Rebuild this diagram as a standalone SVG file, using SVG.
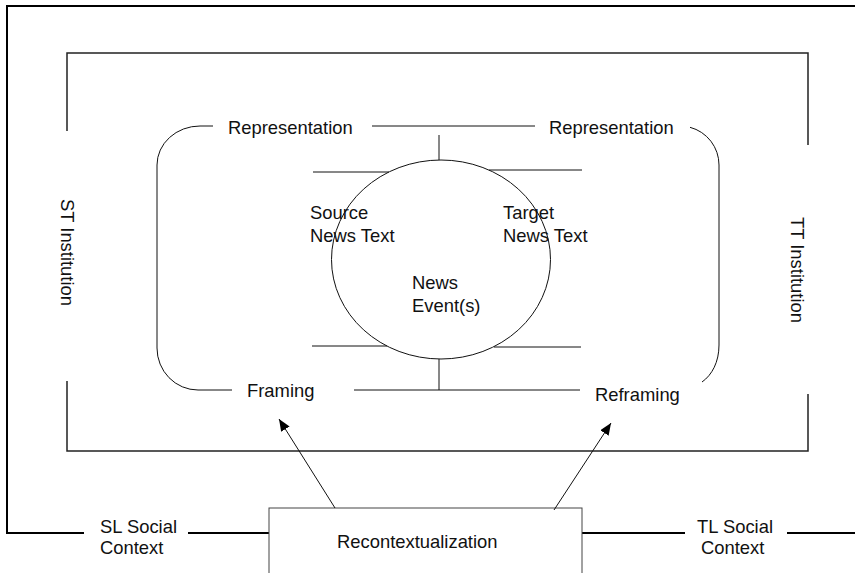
<svg xmlns="http://www.w3.org/2000/svg" width="855" height="573" viewBox="0 0 855 573">
<defs>
<style>
text{font-family:"Liberation Sans",Arial,sans-serif;font-size:18.4px;fill:#111}
.outer{stroke:#000;stroke-width:2;fill:none}
.inner{stroke:#222;stroke-width:1.5;fill:none}
.thin{stroke:#111;stroke-width:1;fill:none}
</style>
<marker id="ah" viewBox="0 0 12 10" refX="12" refY="5" markerWidth="12" markerHeight="10" markerUnits="userSpaceOnUse" orient="auto">
<path d="M0,0 L12,5 L0,10 Z" fill="#000"/>
</marker>
</defs>
<rect width="855" height="573" fill="#fff"/>

<g id="sl-social-context">
<path class="outer" d="M855,6 H7 V533 H84 M188,533 H269"/>
<text x="100" y="533">SL Social</text>
<text x="100" y="554">Context</text>
</g>
<g id="tl-social-context">
<path class="outer" d="M582,533 H685 M787,533 H855"/>
<text x="697" y="533">TL Social</text>
<text x="701" y="554">Context</text>
</g>

<g id="st-institution">
<path class="inner" d="M67,131 V53 H808 V145 M808,394 V451 H67 V381"/>
<text transform="translate(61,199) rotate(90)">ST Institution</text>
</g>
<g id="tt-institution">
<text transform="translate(791,217) rotate(90)">TT Institution</text>
</g>

<g id="representation-frame">
<path class="thin" d="M213,126 H200 A43,39 0 0 0 157,165 V348 A41,42 0 0 0 198,390 H232"/>
<path class="thin" d="M372,126 H535"/>
<path class="thin" d="M690,127.3 A39,39 0 0 1 719,165 V345 C719,362 712,375 702,382"/>
<path class="thin" d="M354,390 H580"/>
<text x="228" y="134">Representation</text>
<text x="549" y="134">Representation</text>
<text x="247" y="397">Framing</text>
<text x="595" y="401">Reframing</text>
</g>

<g id="news-event">
<ellipse class="thin" cx="441" cy="259.5" rx="109.5" ry="99.5"/>
<path class="thin" d="M439,135 V160 M439,359 V390"/>
<path class="thin" d="M313,172 H389 M489,170 H582 M312,346 H387 M494,347 H581"/>
<text x="412" y="289">News</text>
<text x="412" y="312">Event(s)</text>
</g>
<g id="source-news-text">
<text x="310" y="219">Source</text>
<text x="310" y="242">News Text</text>
</g>
<g id="target-news-text">
<text x="503" y="219">Target</text>
<text x="503" y="242">News Text</text>
</g>

<g id="recontextualization">
<rect x="269" y="508" width="313" height="80" fill="#fff" stroke="#444" stroke-width="1"/>
<text x="337" y="548">Recontextualization</text>
</g>

<g id="connectors">
<line class="thin" x1="335" y1="508" x2="279" y2="419" marker-end="url(#ah)"/>
<line class="thin" x1="554" y1="510" x2="611" y2="423" marker-end="url(#ah)"/>
</g>
</svg>
